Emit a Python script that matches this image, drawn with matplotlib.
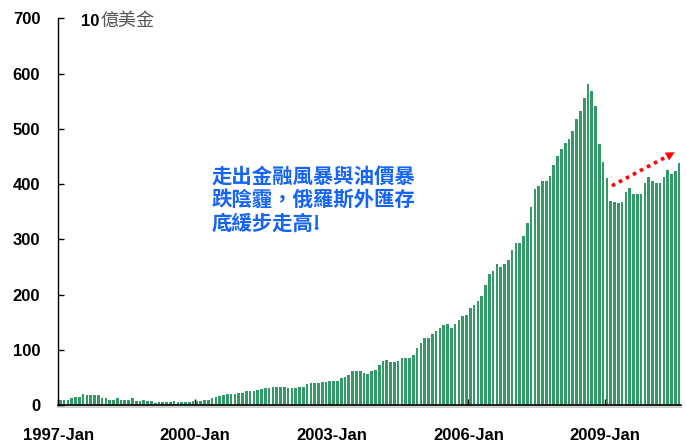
import numpy as np
import pandas as pd
import matplotlib
matplotlib.use("Agg")
import matplotlib.pyplot as plt
import matplotlib.transforms as mtransforms

# Russia foreign reserves, monthly, billion USD
reserves = [
    # 1997
    10, 9, 10, 13, 15, 15, 20, 19, 19, 19, 19, 13,
    # 1998
    13, 10, 10, 13, 10, 10, 10, 13, 8, 8, 10, 8,
    # 1999
    8, 5, 6, 6, 6, 6, 8, 6, 6, 6, 6, 8,
    # 2000
    8, 8, 10, 10, 13, 15, 17, 19, 20, 20, 20, 22,
    # 2001
    22, 26, 26, 26, 28, 29, 31, 31, 33, 33, 33, 33,
    # 2002
    31, 31, 31, 33, 33, 38, 40, 40, 40, 42, 42, 44,
    # 2003
    44, 44, 49, 51, 55, 62, 62, 62, 58, 57, 62, 64,
    # 2004
    73, 80, 82, 78, 78, 80, 85, 85, 85, 91, 104, 113,
    # 2005
    122, 122, 129, 134, 140, 145, 147, 140, 147, 154, 161, 163,
    # 2006
    176, 181, 188, 197, 218, 237, 242, 256, 250, 256, 262, 280,
    # 2007
    294, 294, 306, 329, 358, 392, 397, 405, 405, 414, 435, 450,
    # 2008
    464, 474, 481, 497, 518, 532, 555, 582, 568, 542, 472, 440,
    # 2009
    411, 369, 368, 366, 368, 386, 393, 382, 382, 382, 402, 413,
    # 2010
    406, 402, 402, 413, 425, 418, 424, 438,
]
months = pd.date_range("1997-01", periods=len(reserves), freq="MS")
tick_labels = ["1997-Jan", "2000-Jan", "2003-Jan", "2006-Jan", "2009-Jan"]
y_ticks = [0, 100, 200, 300, 400, 500, 600, 700]

unit_num = "10"
unit_cjk = "億美金"
note = "走出金融風暴與油價暴\n跌陰霾，俄羅斯外匯存\n底緩步走高!"

# trend arrow, from / to (month index, value)
arrow_start = (145.3, 397)
arrow_end = (162.5, 460)

fig = plt.figure(figsize=(6.86, 4.46), dpi=100)
ax = fig.add_axes([0.0851, 0.0913, 0.9076, 0.8677])

x = np.arange(len(reserves))
ax.bar(x, reserves, width=0.7, color="#339966", zorder=2)

ax.set_xlim(-0.5, len(reserves) - 0.5)
ax.set_ylim(0, 700)

tick_pos = [months.get_loc(pd.Timestamp(t.replace("-Jan", "-01-01"))) - 0.5 for t in tick_labels]
ax.set_xticks(tick_pos)
ax.set_xticklabels(tick_labels)
ax.set_yticks(y_ticks)

for s in ["top", "right"]:
    ax.spines[s].set_visible(False)
ax.spines["left"].set_color("black")
ax.spines["bottom"].set_color("black")
ax.spines["left"].set_linewidth(1.0)
ax.spines["bottom"].set_linewidth(1.2)

ax.tick_params(axis="y", direction="in", length=4, width=1, pad=13)
ax.tick_params(axis="x", direction="in", length=4, width=1, pad=16)
for lab in ax.get_xticklabels() + ax.get_yticklabels():
    lab.set_fontfamily("Liberation Sans")
    lab.set_fontweight("bold")
    lab.set_fontsize(12)

# grey shadow line under the x axis
trans = mtransforms.offset_copy(ax.transAxes, fig=fig, y=-2.0, units="dots")
ax.plot([0, 1], [0, 0], transform=trans, color="#d0d0d0", lw=1.4, clip_on=False, zorder=1)

# unit label
fig.text(81 / 686, 1 - 21 / 446, unit_num, fontsize=12, fontweight="bold",
         family="Liberation Sans", va="center", ha="left")
fig.text(100 / 686, 1 - 21 / 446, unit_cjk, fontsize=13, color="#555555",
         family=["Noto Sans CJK TC", "DejaVu Sans"], va="center", ha="left")

# blue comment
fig.text(212 / 686, 1 - 166 / 446, note, fontsize=14.7, fontweight="bold",
         color="#1464f5", family=["Noto Sans CJK TC", "DejaVu Sans"],
         va="top", ha="left", linespacing=1.15)

# red dotted trend arrow
ax.plot([arrow_start[0], arrow_end[0] - 0.6], [arrow_start[1], arrow_end[1] - 2.2],
        color="red", lw=2.6, ls=(0, (1, 1.2)), zorder=3)
ax.annotate("", xy=arrow_end, xytext=(arrow_end[0] - 1.5, arrow_end[1] - 5.5),
            arrowprops=dict(arrowstyle="-|>", color="red", lw=0, mutation_scale=16),
            zorder=3)

fig.savefig("out.png", dpi=100)
